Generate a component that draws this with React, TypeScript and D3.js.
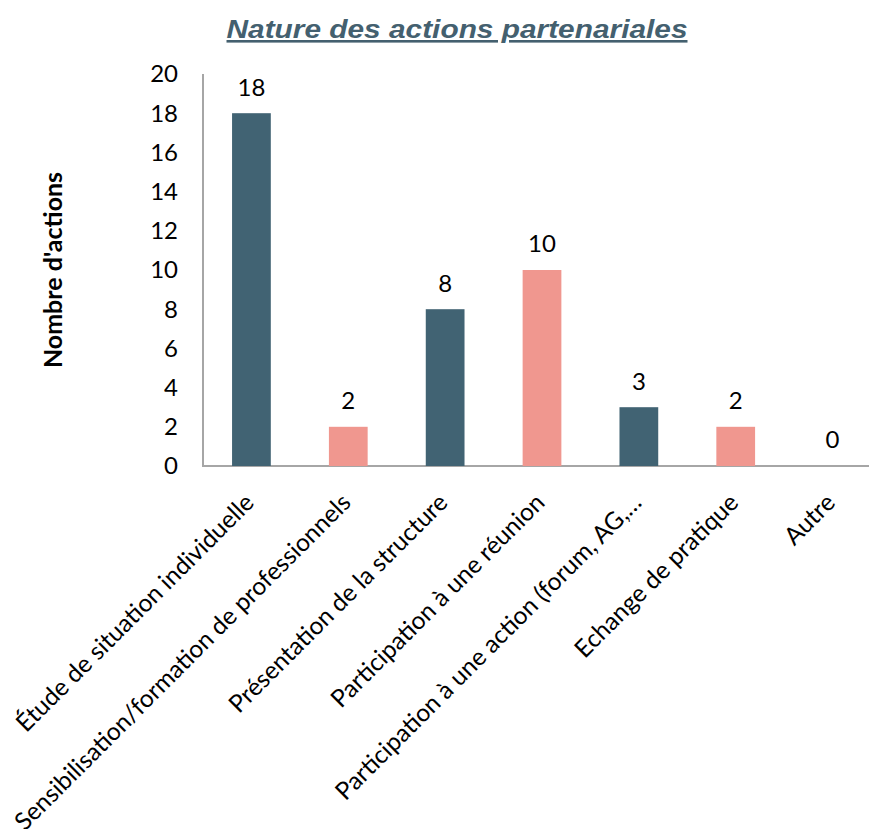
import React, { useEffect, useRef } from "react";
import * as d3 from "d3";

const categories = [
  "Étude de situation individuelle",
  "Sensibilisation/formation de professionnels",
  "Présentation de la structure",
  "Participation à une réunion",
  "Participation à une action (forum, AG,…",
  "Echange de pratique",
  "Autre",
];
const values = [18, 2, 8, 10, 3, 2, 0];
const yTicks = [0, 2, 4, 6, 8, 10, 12, 14, 16, 18, 20];
const title = "Nature des actions partenariales";
const yTitle = "Nombre d'actions";
const colors = ["#416373", "#f0978f"];

export default function App() {
  const ref = useRef<SVGSVGElement>(null);
  useEffect(() => {
    document.body.style.margin = "0";
    const svg = d3.select(ref.current!);
    svg.selectAll("*").remove();
    const font = "Lato, 'Open Sans', sans-serif";
    const x = d3
      .scaleBand<string>()
      .domain(categories)
      .range([203, 881])
      .paddingInner(0.6)
      .paddingOuter(0.3);
    const y = d3.scaleLinear().domain([0, 20]).range([466, 74]);

    // title
    svg
      .append("text")
      .attr("x", 457)
      .attr("y", 38)
      .attr("text-anchor", "middle")
      .attr("font-family", "'Liberation Sans', Arial, sans-serif")
      .attr("font-weight", "bold")
      .attr("font-style", "italic")
      .attr("font-size", 26)
      .attr("fill", "#44606f")
      .attr("text-decoration", "underline")
      .attr("textLength", 461)
      .attr("lengthAdjust", "spacingAndGlyphs")
      .text(title);

    // y axis line
    svg
      .append("line")
      .attr("x1", 203)
      .attr("x2", 203)
      .attr("y1", y(20))
      .attr("y2", y(0))
      .attr("stroke", "#a6a6a6")
      .attr("stroke-width", 2);
    // x axis line
    svg
      .append("line")
      .attr("x1", 202)
      .attr("x2", 869)
      .attr("y1", y(0))
      .attr("y2", y(0))
      .attr("stroke", "#a6a6a6")
      .attr("stroke-width", 2);

    // y tick labels
    svg
      .selectAll("text.ytick")
      .data(yTicks)
      .join("text")
      .attr("class", "ytick")
      .attr("x", 178)
      .attr("y", (d) => y(d))
      .attr("dy", "0.35em")
      .attr("text-anchor", "end")
      .attr("font-family", font)
      .attr("font-size", 24)
      .attr("fill", "#000")
      .text((d) => String(d));

    // y title
    svg
      .append("text")
      .attr("transform", `translate(53,270) rotate(-90)`)
      .attr("dy", "0.35em")
      .attr("text-anchor", "middle")
      .attr("font-family", font)
      .attr("font-weight", "bold")
      .attr("font-size", 25)
      .attr("fill", "#000")
      .text(yTitle);

    // bars
    svg
      .selectAll("rect.bar")
      .data(values)
      .join("rect")
      .attr("class", "bar")
      .attr("x", (_, i) => x(categories[i])!)
      .attr("width", x.bandwidth())
      .attr("y", (d) => y(d))
      .attr("height", (d) => y(0) - y(d))
      .attr("fill", (_, i) => colors[i % 2]);

    // value labels
    svg
      .selectAll("text.val")
      .data(values)
      .join("text")
      .attr("class", "val")
      .attr("x", (_, i) => x(categories[i])! + x.bandwidth() / 2)
      .attr("y", (d) => y(d) - 26)
      .attr("dy", "0.35em")
      .attr("text-anchor", "middle")
      .attr("font-family", font)
      .attr("font-size", 24)
      .attr("fill", "#000")
      .text((d) => String(d));

    // x labels
    svg
      .selectAll("text.xlab")
      .data(categories)
      .join("text")
      .attr("class", "xlab")
      .attr(
        "transform",
        (d) => `translate(${x(d)! + x.bandwidth() / 2 - 2},${498}) rotate(-45)`
      )
      .attr("dy", "0.35em")
      .attr("text-anchor", "end")
      .attr("font-family", font)
      .attr("font-size", 24.5)
      .attr("fill", "#000")
      .text((d) => d);
  }, []);
  return (
    <svg
      ref={ref}
      width={869}
      height={829}
      style={{ display: "block", background: "#fff" }}
    />
  );
}
